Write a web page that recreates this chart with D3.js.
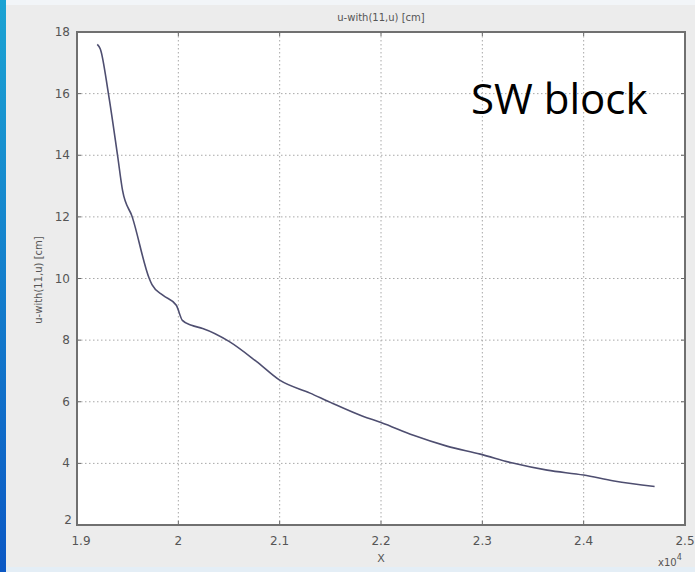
<!DOCTYPE html>
<html>
<head>
  <title>u-with(11,u) SW block</title>
  <script src="https://d3js.org/d3.v7.min.js"></script>
  <style>
    body { margin: 0; background: #ececec; }
    svg { display: block; }
  </style>
</head>
<body>

<script>
// curve samples (x in m, u in cm)
const xVals = [19200, 19230, 19310, 19400, 19450, 19545, 19713, 19740, 19850, 19980,
  20040, 20130, 20240, 20500, 20770, 21000, 21300, 21500, 21820, 22000,
  22320, 22650, 22980, 23300, 23640, 24000, 24300, 24700];
const uVals = [17.6, 17.45, 16.0, 14.0, 12.85, 12.0, 10.0, 9.8, 9.45, 9.13,
  8.64, 8.48, 8.38, 7.96, 7.31, 6.70, 6.28, 5.98, 5.53, 5.33,
  4.91, 4.56, 4.30, 4.01, 3.78, 3.62, 3.43, 3.25];
const xTicks = [19000, 20000, 21000, 22000, 23000, 24000, 25000];
const xTickLabels = ['1.9', '2', '2.1', '2.2', '2.3', '2.4', '2.5'];
const yTicks = [2, 4, 6, 8, 10, 12, 14, 16, 18];

const width = 695;
const height = 572;
const margin = { top: 32, right: 10, bottom: 47, left: 77 };
const innerW = width - margin.left - margin.right;
const innerH = height - margin.top - margin.bottom;

const svg = d3.select('body')
  .append('svg')
  .attr('width', width)
  .attr('height', height)
  .style('font-family', 'DejaVu Sans, sans-serif');

// slide background bits
const grad = svg.append('defs').append('linearGradient')
  .attr('id', 'side').attr('x1', 0).attr('y1', 0).attr('x2', 0).attr('y2', 1);
grad.append('stop').attr('offset', '0%').attr('stop-color', '#1ba3d3');
grad.append('stop').attr('offset', '100%').attr('stop-color', '#0b58c4');

svg.append('rect').attr('width', width).attr('height', height).attr('fill', '#ececec');
svg.append('rect').attr('width', width).attr('height', 5).attr('fill', '#f2f5f8');
svg.append('rect').attr('y', 567).attr('width', width).attr('height', 5).attr('fill', '#e4eef6');
svg.append('rect').attr('width', 6).attr('height', height).attr('fill', 'url(#side)');

const x = d3.scaleLinear().domain([19000, 25000]).range([0, innerW]);
const y = d3.scaleLinear().domain([2, 18]).range([innerH, 0]);

const g = svg.append('g')
  .attr('transform', `translate(${margin.left},${margin.top})`);

g.append('rect')
  .attr('width', innerW)
  .attr('height', innerH)
  .attr('fill', '#ffffff');

// dotted grid
g.selectAll('.vgrid')
  .data(xTicks.slice(1, -1))
  .enter().append('line')
    .attr('x1', d => x(d)).attr('x2', d => x(d))
    .attr('y1', 0).attr('y2', innerH)
    .attr('stroke', '#a8a8a8')
    .attr('stroke-dasharray', '1.5,2.5');

g.selectAll('.hgrid')
  .data(yTicks.slice(1, -1))
  .enter().append('line')
    .attr('x1', 0).attr('x2', innerW)
    .attr('y1', d => y(d)).attr('y2', d => y(d))
    .attr('stroke', '#a8a8a8')
    .attr('stroke-dasharray', '1.5,2.5');

// little tick marks inside the frame
const tickLen = 4;
xTicks.forEach(t => {
  g.append('line').attr('x1', x(t)).attr('x2', x(t)).attr('y1', 0).attr('y2', tickLen)
    .attr('stroke', '#666');
  g.append('line').attr('x1', x(t)).attr('x2', x(t)).attr('y1', innerH - tickLen).attr('y2', innerH)
    .attr('stroke', '#666');
});
yTicks.forEach(t => {
  g.append('line').attr('x1', 0).attr('x2', tickLen).attr('y1', y(t)).attr('y2', y(t))
    .attr('stroke', '#666');
  g.append('line').attr('x1', innerW - tickLen).attr('x2', innerW).attr('y1', y(t)).attr('y2', y(t))
    .attr('stroke', '#666');
});

// curve
const points = xVals.map((v, i) => [v, uVals[i]]);
g.append('path')
  .datum(points)
  .attr('fill', 'none')
  .attr('stroke', '#4e4e70')
  .attr('stroke-width', 1.6)
  .attr('d', d3.line()
    .x(d => x(d[0]))
    .y(d => y(d[1]))
    .curve(d3.curveMonotoneX));

// frame
g.append('rect')
  .attr('width', innerW)
  .attr('height', innerH)
  .attr('fill', 'none')
  .attr('stroke', '#707070')
  .attr('stroke-width', 2);

// tick labels
g.selectAll('.xlab')
  .data(xTicks)
  .enter().append('text')
    .attr('x', d => x(d) + (d === 19000 ? 4 : 0))
    .attr('y', innerH + 20)
    .attr('text-anchor', 'middle')
    .attr('font-size', 12)
    .attr('fill', '#555')
    .text((d, i) => xTickLabels[i]);

g.selectAll('.ylab')
  .data(yTicks)
  .enter().append('text')
    .attr('x', d => d === 2 ? -5 : -7)
    .attr('y', d => y(d) + (d === 2 ? -1 : 4))
    .attr('text-anchor', 'end')
    .attr('font-size', 12)
    .attr('fill', '#555')
    .text(d => d);

// titles
svg.append('text')
  .attr('x', margin.left + innerW / 2)
  .attr('y', 21)
  .attr('text-anchor', 'middle')
  .attr('font-size', 10)
  .attr('fill', '#555')
  .text('u-with(11,u) [cm]');

svg.append('text')
  .attr('x', margin.left + innerW / 2)
  .attr('y', 562)
  .attr('text-anchor', 'middle')
  .attr('font-size', 11)
  .attr('fill', '#555')
  .text('X');

svg.append('text')
  .attr('transform', 'translate(42,280) rotate(-90)')
  .attr('text-anchor', 'middle')
  .attr('font-size', 10)
  .attr('fill', '#555')
  .text('u-with(11,u) [cm]');

const exp = svg.append('text')
  .attr('x', 658)
  .attr('y', 566)
  .attr('font-size', 10)
  .attr('fill', '#555');
exp.append('tspan').text('x10');
exp.append('tspan').attr('dy', -6).attr('font-size', 8).text('4');

// slide annotation
svg.append('text')
  .attr('x', 471)
  .attr('y', 114)
  .attr('font-family', 'Open Sans, sans-serif')
  .attr('font-size', 42)
  .attr('fill', '#000')
  .text('SW block');
</script>

</body>
</html>
